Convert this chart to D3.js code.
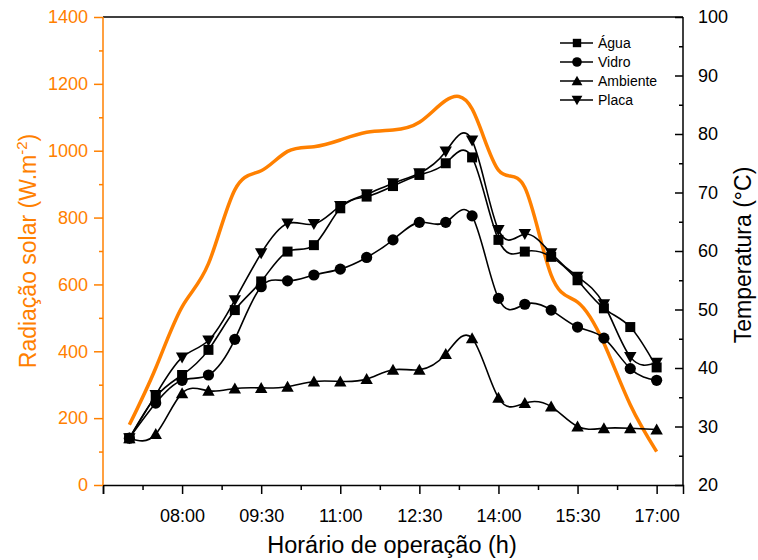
<!DOCTYPE html>
<html><head><meta charset="utf-8">
<script src="https://cdn.jsdelivr.net/npm/d3@7"></script>
<style>body{margin:0;background:#fff} svg{display:block;font-family:Arial,"Liberation Sans",sans-serif}</style>
</head><body><svg id="c" width="758" height="560"></svg>
<script>
// ---- data ----
const times = [7,7.5,8,8.5,9,9.5,10,10.5,11,11.5,12,12.5,13,13.5,14,14.5,15,15.5,16,16.5,17];
const radiacao = [180,350,533,662,883,940,998,1012,1032,1055,1062,1085,1150,1125,942,890,628,547,424,240,100];
const agua     = [28.0,35.1,38.8,43.1,49.9,54.8,59.9,61.0,67.3,69.3,71.1,73.0,75.0,76.0,61.9,59.9,59.0,55.0,50.2,47.0,40.1];
const vidro    = [28.0,34.0,37.9,38.8,44.9,53.9,54.9,55.9,56.9,58.9,61.9,64.9,64.9,66.0,51.9,50.9,49.9,47.0,45.1,39.9,37.9];
const ambiente = [28.0,28.7,35.7,36.1,36.5,36.6,36.8,37.7,37.7,38.1,39.7,39.7,42.4,45.1,34.9,34.0,33.4,30.0,29.7,29.7,29.5];
const placa    = [28.0,35.4,41.8,44.7,51.6,59.6,64.7,64.6,67.7,69.7,71.6,73.3,77.0,78.9,63.6,62.9,59.6,55.6,50.9,41.9,40.9];
const seriesNames = ["Água","Vidro","Ambiente","Placa"];
const xTickValues = [6.5,8,9.5,11,12.5,14,15.5,17];
const xTickLabels = ["","08:00","09:30","11:00","12:30","14:00","15:30","17:00"];
const xMinorTicks = [7.25,8.75,10.25,11.75,13.25,14.75,16.25];
const radTicks = [0,200,400,600,800,1000,1200,1400];
const radMinor = [100,300,500,700,900,1100,1300];
const tempTicks = [20,30,40,50,60,70,80,90,100];
const tempMinor = [25,35,45,55,65,75,85,95];

// ---- layout ----
const ORANGE = "#ff8000";
const L=103, R=683, T=17, B=485;
const svg = d3.select("#c");
const x = d3.scaleLinear().domain([6.5,17.5]).range([L,R]);
const yR = d3.scaleLinear().domain([0,1400]).range([B,T]);
const yT = d3.scaleLinear().domain([20,100]).range([B,T]);

// frame top
svg.append("line").attr("x1",L).attr("x2",R).attr("y1",T).attr("y2",T).attr("stroke","#000").attr("stroke-width",1.5);

// bottom axis
const gx = svg.append("g").attr("transform",`translate(0,${B})`);
gx.call(d3.axisBottom(x).tickValues(xTickValues).tickSize(9).tickPadding(15)
  .tickFormat((d,i)=>xTickLabels[i]));
const gxm = svg.append("g").attr("transform",`translate(0,${B})`);
gxm.call(d3.axisBottom(x).tickValues(xMinorTicks).tickSize(5).tickFormat(""));
gxm.select(".domain").remove();
[gx,gxm].forEach(g=>{g.selectAll("line,path").attr("stroke","#000").attr("stroke-width",1.5);});
gx.selectAll("text").attr("font-size",18).attr("fill","#000").attr("font-family","Arial, Liberation Sans, sans-serif");

// left axis (orange)
const gl = svg.append("g").attr("transform",`translate(${L},0)`);
gl.call(d3.axisLeft(yR).tickValues(radTicks).tickSize(9).tickPadding(6).tickFormat(d3.format("d")));
const glm = svg.append("g").attr("transform",`translate(${L},0)`);
glm.call(d3.axisLeft(yR).tickValues(radMinor).tickSize(4).tickFormat(""));
glm.select(".domain").remove();
[gl,glm].forEach(g=>{g.selectAll("line,path").attr("stroke",ORANGE).attr("stroke-width",1.5);});
gl.select(".domain").attr("d",`M0,${T}V${B}`);
gl.selectAll("text").attr("font-size",18).attr("fill",ORANGE).attr("font-family","Arial, Liberation Sans, sans-serif");

// right axis (black, ticks inward)
const gr = svg.append("g").attr("transform",`translate(${R},0)`);
gr.call(d3.axisRight(yT).tickValues(tempTicks).tickSize(-8).tickPadding(15).tickFormat(d3.format("d")));
const grm = svg.append("g").attr("transform",`translate(${R},0)`);
grm.call(d3.axisRight(yT).tickValues(tempMinor).tickSize(-4).tickFormat(""));
grm.select(".domain").remove();
[gr,grm].forEach(g=>{g.selectAll("line,path").attr("stroke","#000").attr("stroke-width",1.5);});
gr.select(".domain").attr("d",`M0,${T}V${B}`);
gr.selectAll("text").attr("font-size",18).attr("fill","#000").attr("font-family","Arial, Liberation Sans, sans-serif");

// axis titles
svg.append("text").attr("x",(L+R)/2 - 1).attr("y",553).attr("text-anchor","middle")
  .attr("font-size",23.5).attr("fill","#000").text("Horário de operação (h)");
const lt = svg.append("text").attr("transform",`translate(36,${(T+B)/2}) rotate(-90)`)
  .attr("text-anchor","middle").attr("font-size",23).attr("fill",ORANGE);
lt.append("tspan").text("Radiação solar (W.m");
lt.append("tspan").attr("font-size",15).attr("dy",-9).text("-2");
lt.append("tspan").attr("dy",9).text(")");
svg.append("text").attr("transform",`translate(751,${(T+B)/2+4}) rotate(-90)`)
  .attr("text-anchor","middle").attr("font-size",23).attr("fill","#000").text("Temperatura (°C)");

// radiation curve
const lineR = d3.line().x((d,i)=>x(times[i])).y(d=>yR(d)).curve(d3.curveNatural);
svg.append("path").attr("d",lineR(radiacao)).attr("fill","none").attr("stroke",ORANGE).attr("stroke-width",3.5);

// temperature series
const lineT = d3.line().x((d,i)=>x(times[i])).y(d=>yT(d)).curve(d3.curveNatural);
const tempSeries = [agua,vidro,ambiente,placa];
const symbols = [
  s=>`M${-s},${-s}H${s}V${s}H${-s}Z`,
  s=>`M${-s-0.6},0A${s+0.6},${s+0.6} 0 1,0 ${s+0.6},0A${s+0.6},${s+0.6} 0 1,0 ${-s-0.6},0Z`,
  s=>`M0,${-s-1}L${s+1.2},${s}L${-s-1.2},${s}Z`,
  s=>`M0,${s+1}L${s+1.2},${-s}L${-s-1.2},${-s}Z`
];
tempSeries.forEach((data,k)=>{
  svg.append("path").attr("d",lineT(data)).attr("fill","none").attr("stroke","#000").attr("stroke-width",1.6);
});
tempSeries.forEach((data,k)=>{
  svg.append("g").selectAll("path").data(data).join("path")
    .attr("transform",(d,i)=>`translate(${x(times[i])},${yT(d)})`)
    .attr("d",symbols[k](5)).attr("fill","#000");
});

// legend
const lg = svg.append("g");
seriesNames.forEach((n,k)=>{
  const yy = 43 + k*19;
  lg.append("line").attr("x1",560).attr("x2",593).attr("y1",yy).attr("y2",yy).attr("stroke","#000").attr("stroke-width",1.6);
  lg.append("path").attr("transform",`translate(577,${yy})`).attr("d",symbols[k](4.2)).attr("fill","#000");
  lg.append("text").attr("x",598).attr("y",yy+5).attr("font-size",14).attr("fill","#000").text(n);
});
</script></body></html>
